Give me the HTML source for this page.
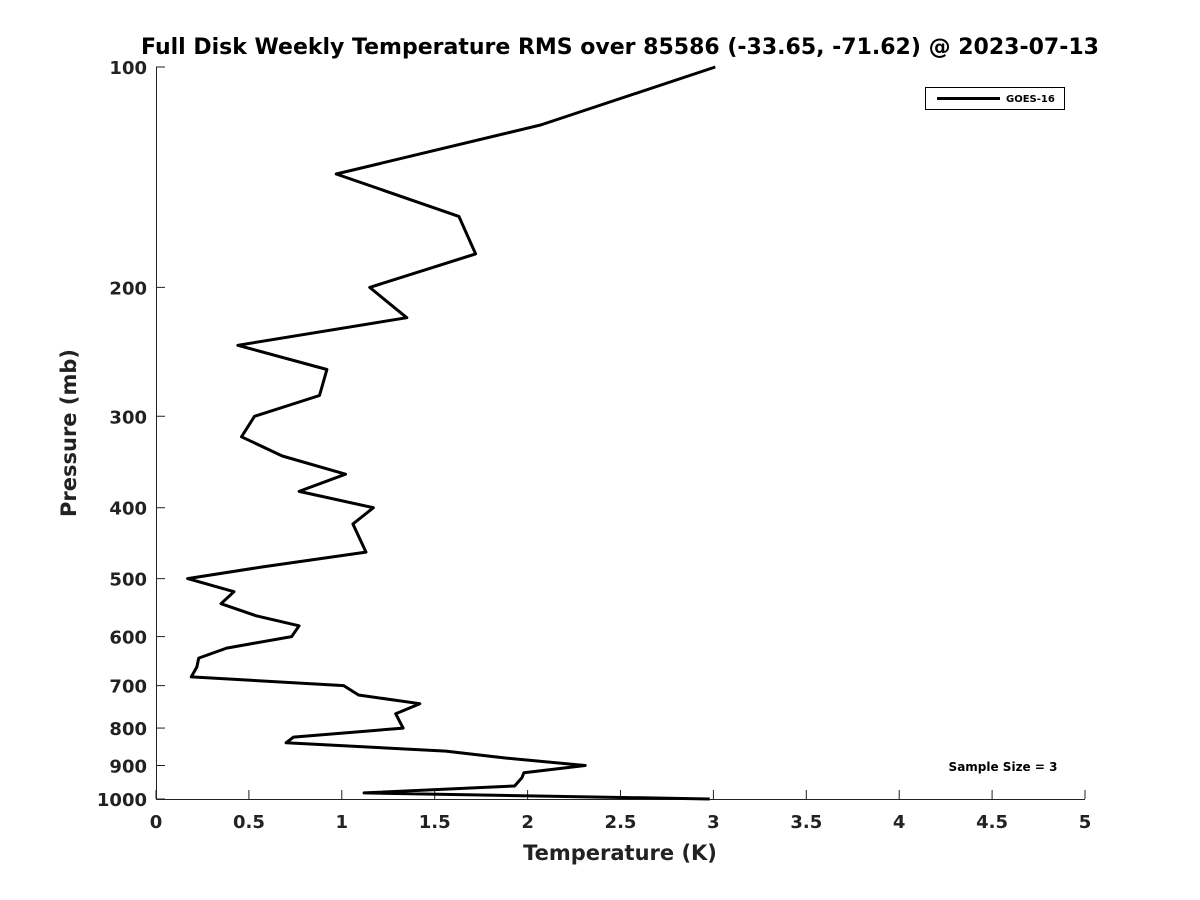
<!DOCTYPE html>
<html><head><meta charset="utf-8"><style>
body{margin:0;background:#fff;}
svg{display:block;font-family:"DejaVu Sans","Liberation Sans",sans-serif;font-weight:bold;}
</style></head><body>
<svg id="chart" width="1200" height="900">
<text x="620" y="54" text-anchor="middle" font-size="22" fill="#000">Full Disk Weekly Temperature RMS over 85586 (-33.65, -71.62) @ 2023-07-13</text>
<g id="axes"></g>
<path id="line" fill="none" stroke="#000" stroke-width="3" stroke-linejoin="round"/>
<g>
<rect x="925.5" y="87.5" width="139" height="22" fill="#fff" stroke="#000" stroke-width="1"/>
<line x1="937" y1="98.5" x2="1000" y2="98.5" stroke="#000" stroke-width="3"/>
<text x="1006" y="102" font-size="10">GOES-16</text>
</g>
<text x="1003" y="771" text-anchor="middle" font-size="12">Sample Size = 3</text>
<text x="620" y="860" text-anchor="middle" font-size="21" fill="#222">Temperature (K)</text>
<text transform="translate(76,433) rotate(-90)" text-anchor="middle" font-size="21" fill="#222">Pressure (mb)</text>
</svg>
<script>
const pressures=[100,120,140,160,180,200,220,240,259,281,300,320,340,360,380,400,421,460,482,500,521,541,562,580,600,622,642,660,681,700,721,741,765,800,823,838,860,879,900,921,935,960,981,1000];
const temps=[3.01,2.07,0.97,1.63,1.72,1.15,1.35,0.44,0.92,0.88,0.53,0.46,0.68,1.02,0.77,1.17,1.06,1.13,0.57,0.17,0.42,0.35,0.54,0.77,0.73,0.38,0.23,0.22,0.19,1.01,1.09,1.42,1.29,1.33,0.74,0.70,1.56,1.88,2.31,1.98,1.97,1.93,1.12,2.98];
const xTicks=[0,0.5,1,1.5,2,2.5,3,3.5,4,4.5,5];
const yTicks=[100,200,300,400,500,600,700,800,900,1000];
const L=156,R=1085,T=67,B=799;
const xs=v=>L+(v/5)*(R-L);
const ys=p=>T+Math.log10(p/100)*(B-T);
const ns="http://www.w3.org/2000/svg";
const ax=document.getElementById('axes');
function mk(t,a){const e=document.createElementNS(ns,t);for(const k in a)e.setAttribute(k,a[k]);ax.appendChild(e);return e;}
const xl=mk('line',{x1:L,y1:B+0.5,x2:R,y2:B+0.5,stroke:'#222','stroke-width':1});


const yl=mk('line',{x1:L+0.5,y1:T,x2:L+0.5,y2:B,stroke:'#222','stroke-width':1});


xTicks.forEach(v=>{const x=xs(v);
const tk=mk('line',{x1:x,y1:B,x2:x,y2:B-9,stroke:'#222'});


const t=mk('text',{x:x,y:B+29,'text-anchor':'middle','font-size':18,fill:'#222'});t.textContent=v;

});
yTicks.forEach(p=>{const y=ys(p);
const tk=mk('line',{x1:L,y1:y,x2:L+9,y2:y,stroke:'#222'});


const t=mk('text',{x:L-9,y:y+7,'text-anchor':'end','font-size':18,fill:'#222'});t.textContent=p;

});
document.getElementById('line').setAttribute('d',temps.map((v,i)=>(i?'L':'M')+xs(v).toFixed(1)+','+ys(pressures[i]).toFixed(1)).join(''));
</script>
</body></html>
